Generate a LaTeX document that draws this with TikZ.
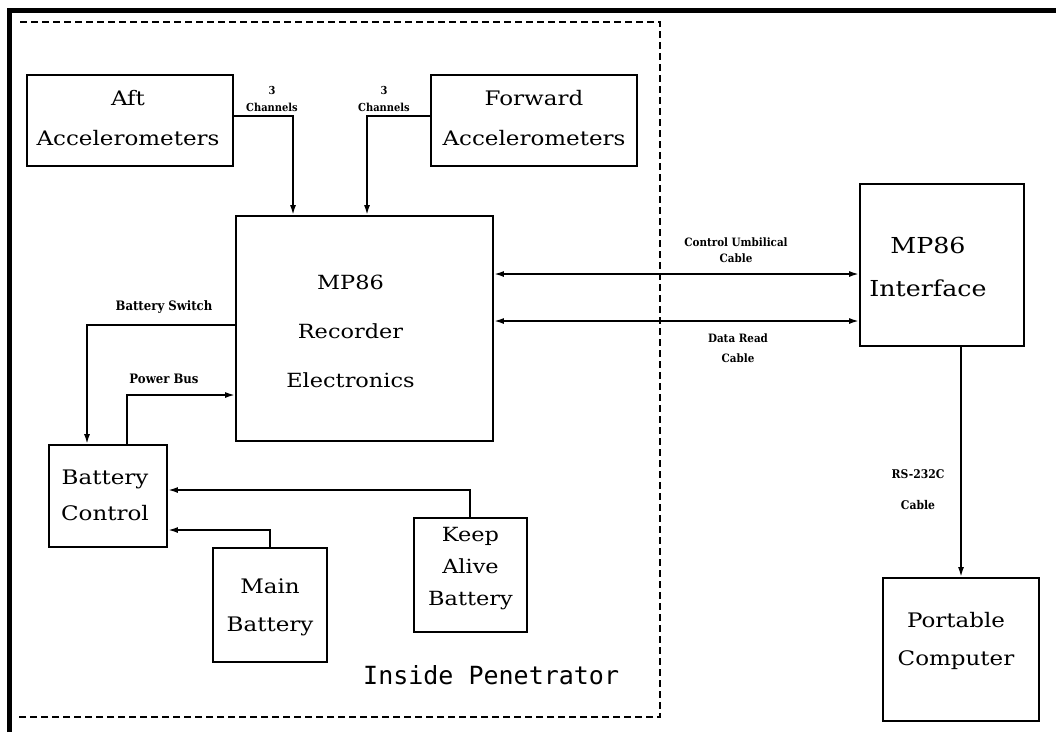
\documentclass[tikz,border=0pt]{standalone}
\usepackage{fontspec}
\newfontfamily\bxf{DejaVu Serif}[FakeStretch=1.15]
\newfontfamily\lbf{DejaVu Serif}[FakeStretch=0.9]
\newfontfamily\ipf{DejaVu Sans Mono}
\usetikzlibrary{arrows.meta}
\begin{document}
\begin{tikzpicture}[x=1pt,y=-1pt,
  blk/.style={draw, line width=1.8pt, inner sep=0pt, minimum width=#1},
  txt/.style={align=center, inner sep=0pt},
  lbl/.style={align=center, inner sep=0pt},
  conn/.style={line width=1.8pt, -{Latex[length=10pt,width=6pt]}},
  conn2/.style={line width=1.8pt, {Latex[length=10pt,width=6pt]}-{Latex[length=10pt,width=6pt]}},
  dashedbox/.style={line width=1.3pt, dash pattern=on 7pt off 4pt}]
\useasboundingbox (0,0) rectangle (1056,732);

% outer frame and dashed enclosure
\draw[line width=5pt] (9.5,732) -- (9.5,10) -- (1056,10);
\draw[dashedbox] (20,22) -- (660,22) -- (660,717) -- (17,717);

% boxes
\node[blk=206pt, minimum height=91pt] (aft) at (130,120.5) {};
\node[blk=206pt, minimum height=91pt] (fwd) at (534,120.5) {};
\node[blk=257pt, minimum height=225pt] (rec) at (364.5,328.5) {};
\node[blk=118pt, minimum height=102pt] (bc) at (108,496) {};
\node[blk=114pt, minimum height=114pt] (mb) at (270,605) {};
\node[blk=113pt, minimum height=114pt] (ka) at (470.5,575) {};
\node[blk=164pt, minimum height=162pt] (mi) at (942,265) {};
\node[blk=156pt, minimum height=143pt] (pc) at (961,649.5) {};

% box texts
\node[txt, font=\bxf\fontsize{20}{40}\selectfont] (taft) at ([xshift=-2pt,yshift=2pt]aft.center) {Aft\\Accelerometers};
\node[txt, font=\bxf\fontsize{20}{40}\selectfont] (tfwd) at ([yshift=2pt]fwd.center) {Forward\\Accelerometers};
\node[txt, font=\bxf\fontsize{19.5}{49}\selectfont] (trec) at ([xshift=-14pt,yshift=-2.5pt]rec.center) {MP86\\Recorder\\Electronics};
\node[txt, font=\bxf\fontsize{20}{36}\selectfont] (tbc) at ([xshift=-3pt,yshift=1pt]bc.center) {Battery\\Control};
\node[txt, font=\bxf\fontsize{20}{38}\selectfont] (tmb) at ([yshift=-2pt]mb.center) {Main\\Battery};
\node[txt, font=\bxf\fontsize{19.5}{32}\selectfont] (tka) at ([yshift=6pt]ka.center) {Keep\\Alive\\Battery};
\node[txt, font=\bxf\fontsize{22}{43}\selectfont] (tmi) at ([xshift=-14pt,yshift=-1.5pt]mi.center) {MP86\\Interface};
\node[txt, font=\bxf\fontsize{20}{38}\selectfont] (tpc) at ([xshift=-5pt,yshift=8.5pt]pc.center) {Portable\\Computer};
\node[txt, font=\ipf\fontsize{25}{30}\selectfont, anchor=west] (tin) at (363,675) {Inside Penetrator};

% connectors
\draw[conn] ([yshift=4.5pt]aft.east) -| ([xshift=-71.5pt]rec.north);
\draw[conn] ([yshift=4.5pt]fwd.west) -| ([xshift=2.5pt]rec.north);
\draw[conn2] ([yshift=54.5pt]rec.east) -- ([yshift=54.5pt]rec.east -| mi.west);
\draw[conn2] ([yshift=7.5pt]rec.east) -- ([yshift=7.5pt]rec.east -| mi.west);
\draw[conn] ([yshift=3.5pt]rec.west) -| ([xshift=-21pt]bc.north);
\draw[conn] ([xshift=19pt]bc.north) |- ([yshift=-66.5pt]rec.west);
\draw[conn] ([xshift=-0.5pt]ka.north) |- ([yshift=6pt]bc.east);
\draw[conn] (mb.north) |- ([yshift=-34pt]bc.east);
\draw[conn] (pc.north |- mi.south) -- (pc.north);

% connector labels
\node[lbl, font=\lbf\bfseries\fontsize{11}{17}\selectfont] (l1) at (272,98.5) {3\\Channels};
\node[lbl, font=\lbf\bfseries\fontsize{11}{17}\selectfont] (l2) at (384,98.5) {3\\Channels};
\node[lbl, font=\lbf\bfseries\fontsize{11.5}{16}\selectfont] (l3) at (736,250) {Control Umbilical\\Cable};
\node[lbl, font=\lbf\bfseries\fontsize{11.5}{20}\selectfont] (l4) at (738,348) {Data Read\\Cable};
\node[lbl, font=\lbf\bfseries\fontsize{13}{14}\selectfont] (l5) at (164,307) {Battery Switch};
\node[lbl, font=\lbf\bfseries\fontsize{13}{14}\selectfont] (l6) at (164,379) {Power Bus};
\node[lbl, font=\lbf\bfseries\fontsize{12}{31}\selectfont] (l7) at (918,489.5) {RS-232C\\Cable};
\end{tikzpicture}
\end{document}
